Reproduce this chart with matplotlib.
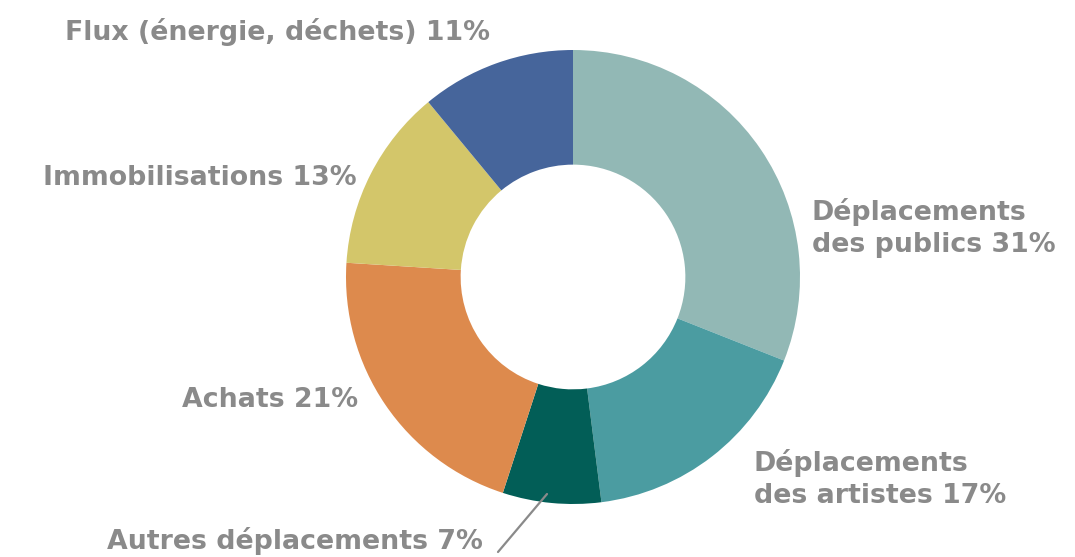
import matplotlib
matplotlib.use("Agg")
import matplotlib.pyplot as plt

# Répartition des émissions par poste (%)
categories = [
    "Déplacements\ndes publics",
    "Déplacements\ndes artistes",
    "Autres déplacements",
    "Achats",
    "Immobilisations",
    "Flux (énergie, déchets)",
]
values = [31, 17, 7, 21, 13, 11]
colors = ["#92B8B5", "#4B9CA1", "#025E57", "#DD8A4D", "#D3C66A", "#46659B"]

W, H = 1075, 557
fig = plt.figure(figsize=(W / 100, H / 100), dpi=100)
ax = fig.add_axes([0, 0, 1, 1])
ax.set_xlim(0, W)
ax.set_ylim(0, H)
ax.set_aspect("equal")
ax.axis("off")

cx, cy, r = 573, 280, 227
ax.pie(values, colors=colors, startangle=90, counterclock=False,
       center=(cx, cy), radius=r,
       wedgeprops=dict(width=r * 0.505, linewidth=0))
ax.set_xlim(0, W)
ax.set_ylim(0, H)

txt = dict(fontsize=19.3, color="#8A8A8A", fontweight="bold",
           family=["DejaVu Sans"], linespacing=1.32)

def label(i, x, y, ha):
    ax.text(x, y, f"{categories[i]} {values[i]}%", ha=ha, va="center", **txt)

label(0, 812, 329, "left")
label(1, 754, 78, "left")
label(2, 483, 16, "right")
label(3, 358, 157, "right")
label(4, 357, 379, "right")
label(5, 490, 525, "right")

# trait de rappel vers la petite part
ax.plot([547, 498], [63, 5], color="#8A8A8A", lw=1.6, solid_capstyle="round")

fig.savefig("out.png", dpi=100, facecolor="white")
